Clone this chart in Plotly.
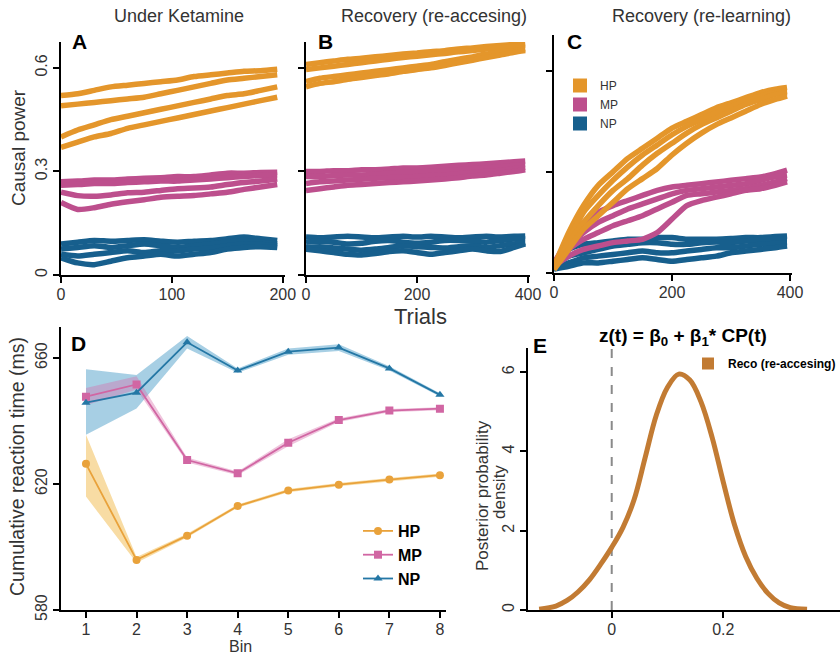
import plotly.graph_objects as go

# ---------------- DATA ----------------
# Panel A: Under Ketamine (trials)
a_trials = [0, 15, 30, 45, 60, 75, 90, 105, 120, 135, 150, 165, 180, 195]
a_hp = [
    [0.52, 0.525, 0.535, 0.545, 0.55, 0.555, 0.56, 0.565, 0.575, 0.58, 0.585, 0.59, 0.592, 0.596],
    [0.49, 0.495, 0.50, 0.505, 0.51, 0.515, 0.525, 0.535, 0.545, 0.555, 0.565, 0.57, 0.575, 0.58],
    [0.40, 0.42, 0.435, 0.45, 0.46, 0.47, 0.48, 0.49, 0.50, 0.51, 0.52, 0.525, 0.535, 0.545],
    [0.37, 0.385, 0.40, 0.41, 0.425, 0.435, 0.445, 0.455, 0.465, 0.475, 0.485, 0.495, 0.505, 0.515],
]
a_mp = [
    [0.27, 0.272, 0.275, 0.275, 0.278, 0.28, 0.282, 0.285, 0.285, 0.29, 0.295, 0.295, 0.297, 0.298],
    [0.26, 0.262, 0.265, 0.265, 0.268, 0.27, 0.272, 0.272, 0.275, 0.278, 0.282, 0.285, 0.288, 0.29],
    [0.24, 0.23, 0.228, 0.232, 0.238, 0.24, 0.245, 0.25, 0.252, 0.255, 0.262, 0.268, 0.272, 0.278],
    [0.21, 0.19, 0.195, 0.205, 0.212, 0.218, 0.225, 0.228, 0.23, 0.235, 0.24, 0.248, 0.255, 0.262],
]
a_np = [
    [0.09, 0.095, 0.10, 0.098, 0.10, 0.102, 0.098, 0.095, 0.098, 0.10, 0.105, 0.11, 0.105, 0.10],
    [0.075, 0.08, 0.085, 0.08, 0.085, 0.09, 0.085, 0.08, 0.085, 0.09, 0.095, 0.10, 0.095, 0.09],
    [0.06, 0.055, 0.06, 0.065, 0.07, 0.065, 0.07, 0.07, 0.075, 0.078, 0.085, 0.09, 0.088, 0.085],
    [0.05, 0.035, 0.03, 0.04, 0.05, 0.055, 0.06, 0.055, 0.06, 0.065, 0.075, 0.08, 0.082, 0.08],
]

# Panels B and C share trial positions
bc_trials = [0, 25, 50, 75, 100, 125, 150, 175, 200, 225, 250, 275, 300, 325, 350, 375, 395]
b_hp = [
    [0.61, 0.615, 0.62, 0.625, 0.628, 0.632, 0.636, 0.64, 0.643, 0.647, 0.65, 0.655, 0.658, 0.662, 0.665, 0.668, 0.67],
    [0.595, 0.60, 0.605, 0.61, 0.615, 0.62, 0.625, 0.63, 0.634, 0.638, 0.642, 0.647, 0.65, 0.655, 0.658, 0.662, 0.665],
    [0.56, 0.57, 0.575, 0.58, 0.585, 0.59, 0.595, 0.60, 0.605, 0.61, 0.618, 0.625, 0.632, 0.64, 0.645, 0.65, 0.655],
    [0.545, 0.555, 0.56, 0.567, 0.572, 0.578, 0.583, 0.59, 0.595, 0.60, 0.607, 0.615, 0.622, 0.63, 0.637, 0.645, 0.65],
]
b_mp = [
    [0.30, 0.30, 0.302, 0.302, 0.305, 0.305, 0.307, 0.31, 0.31, 0.312, 0.315, 0.318, 0.32, 0.322, 0.325, 0.328, 0.33],
    [0.285, 0.285, 0.288, 0.29, 0.29, 0.292, 0.295, 0.297, 0.298, 0.30, 0.302, 0.305, 0.308, 0.31, 0.313, 0.318, 0.32],
    [0.265, 0.27, 0.272, 0.275, 0.277, 0.28, 0.282, 0.283, 0.285, 0.288, 0.29, 0.293, 0.297, 0.30, 0.303, 0.308, 0.312],
    [0.245, 0.25, 0.255, 0.26, 0.262, 0.265, 0.268, 0.27, 0.272, 0.275, 0.278, 0.282, 0.287, 0.29, 0.295, 0.30, 0.305],
]
b_np = [
    [0.11, 0.108, 0.11, 0.112, 0.11, 0.108, 0.11, 0.112, 0.11, 0.112, 0.11, 0.108, 0.11, 0.112, 0.11, 0.112, 0.113],
    [0.095, 0.098, 0.095, 0.09, 0.092, 0.098, 0.10, 0.095, 0.092, 0.095, 0.10, 0.10, 0.098, 0.095, 0.10, 0.104, 0.105],
    [0.08, 0.082, 0.078, 0.075, 0.072, 0.075, 0.08, 0.085, 0.082, 0.08, 0.078, 0.082, 0.085, 0.08, 0.085, 0.09, 0.095],
    [0.075, 0.07, 0.065, 0.06, 0.058, 0.062, 0.068, 0.07, 0.065, 0.06, 0.065, 0.07, 0.075, 0.07, 0.068, 0.08, 0.09],
]
c_hp = [
    [0.02, 0.12, 0.20, 0.26, 0.30, 0.34, 0.37, 0.40, 0.43, 0.45, 0.47, 0.49, 0.505, 0.52, 0.535, 0.545, 0.55],
    [0.02, 0.10, 0.18, 0.23, 0.275, 0.315, 0.35, 0.38, 0.41, 0.435, 0.455, 0.475, 0.495, 0.51, 0.525, 0.535, 0.54],
    [0.015, 0.09, 0.15, 0.20, 0.245, 0.28, 0.32, 0.355, 0.385, 0.415, 0.44, 0.46, 0.48, 0.50, 0.515, 0.53, 0.535],
    [0.01, 0.07, 0.13, 0.17, 0.21, 0.25, 0.28, 0.31, 0.35, 0.385, 0.415, 0.44, 0.46, 0.48, 0.50, 0.515, 0.525],
]
c_mp = [
    [0.03, 0.10, 0.15, 0.18, 0.20, 0.215, 0.23, 0.245, 0.255, 0.26, 0.265, 0.27, 0.275, 0.28, 0.285, 0.295, 0.305],
    [0.03, 0.08, 0.12, 0.15, 0.17, 0.19, 0.205, 0.22, 0.235, 0.245, 0.25, 0.255, 0.26, 0.265, 0.275, 0.285, 0.29],
    [0.02, 0.07, 0.10, 0.12, 0.14, 0.155, 0.17, 0.19, 0.21, 0.23, 0.235, 0.24, 0.245, 0.25, 0.26, 0.27, 0.28],
    [0.02, 0.05, 0.07, 0.08, 0.09, 0.095, 0.10, 0.12, 0.16, 0.20, 0.215, 0.225, 0.235, 0.245, 0.25, 0.26, 0.27],
]
c_np = [
    [0.03, 0.07, 0.085, 0.09, 0.095, 0.10, 0.10, 0.105, 0.105, 0.10, 0.10, 0.10, 0.102, 0.105, 0.105, 0.108, 0.11],
    [0.02, 0.05, 0.06, 0.07, 0.08, 0.085, 0.09, 0.09, 0.085, 0.085, 0.09, 0.092, 0.09, 0.095, 0.098, 0.10, 0.10],
    [0.012, 0.03, 0.045, 0.05, 0.055, 0.06, 0.065, 0.06, 0.06, 0.065, 0.07, 0.075, 0.075, 0.08, 0.085, 0.088, 0.09],
    [0.012, 0.02, 0.03, 0.03, 0.035, 0.04, 0.045, 0.04, 0.035, 0.04, 0.045, 0.05, 0.06, 0.065, 0.07, 0.075, 0.08],
]

# Panel D: cumulative reaction time per bin
bins = [1, 2, 3, 4, 5, 6, 7, 8]
d_hp_mean = [626.4, 595.9, 603.6, 613.0, 617.9, 619.8, 621.4, 622.8]
d_hp_lo = [616.0, 595.0, 603.0, 612.5, 617.4, 619.3, 620.9, 622.3]
d_hp_hi = [635.6, 596.8, 604.2, 613.5, 618.4, 620.3, 621.9, 623.3]
d_mp_mean = [647.7, 651.6, 627.6, 623.4, 633.1, 640.3, 643.3, 643.9]
d_mp_lo = [645.0, 650.0, 626.8, 622.8, 632.0, 639.7, 642.8, 643.4]
d_mp_hi = [650.5, 654.2, 628.4, 624.0, 634.2, 640.9, 643.8, 644.4]
d_np_mean = [645.8, 649.0, 665.0, 656.0, 662.0, 663.3, 656.7, 648.3]
d_np_lo = [635.6, 644.0, 663.0, 655.3, 661.0, 662.2, 656.0, 647.8]
d_np_hi = [656.4, 654.6, 667.0, 656.7, 663.0, 664.4, 657.4, 648.8]

# Panel E: posterior density
e_x = [-0.13, -0.10, -0.08, -0.06, -0.04, -0.02, 0.00, 0.02, 0.04, 0.06, 0.08, 0.10,
       0.12, 0.14, 0.16, 0.18, 0.20, 0.22, 0.24, 0.26, 0.28, 0.30, 0.32, 0.35]
e_y = [0.02, 0.10, 0.24, 0.46, 0.76, 1.15, 1.58, 2.08, 2.78, 3.85, 4.92, 5.62,
       5.95, 5.80, 5.25, 4.35, 3.22, 2.15, 1.35, 0.80, 0.42, 0.18, 0.06, 0.02]

groups = ["HP", "MP", "NP"]
panel_titles = ["Under Ketamine", "Recovery (re-accesing)", "Recovery (re-learning)"]

# ---------------- STYLE ----------------
W, H = 840, 658
def fx(px): return px / W
def fy(py): return 1 - py / H

COL_S = {"HP": "#E4962B", "MP": "#BD4F8D", "NP": "#175F8D"}
COL_D = {"HP": "#E9A23B", "MP": "#D166A3", "NP": "#2477A5"}
BAND_D = {"HP": "rgba(242,192,90,0.55)", "MP": "rgba(214,110,170,0.40)", "NP": "rgba(95,168,205,0.55)"}
SYM_D = {"HP": "circle", "MP": "square", "NP": "triangle-up"}
FONT = "Liberation Sans, Arial, sans-serif"
TXT = "#333333"

fig = go.Figure()

# Panels A-C
panels = [
    ("x", "y", a_trials, {"HP": a_hp, "MP": a_mp, "NP": a_np}),
    ("x2", "y2", bc_trials, {"HP": b_hp, "MP": b_mp, "NP": b_np}),
    ("x3", "y3", bc_trials, {"HP": c_hp, "MP": c_mp, "NP": c_np}),
]
for xa, ya, tr, data in panels:
    for g in ["NP", "MP", "HP"]:
        for series in data[g]:
            fig.add_trace(go.Scatter(
                x=tr, y=series, xaxis=xa, yaxis=ya, mode="lines",
                line=dict(color=COL_S[g], width=5.5, shape="spline", smoothing=0.6),
                showlegend=False, hoverinfo="skip"))

# legend for panel C
for g in groups:
    fig.add_trace(go.Scatter(
        x=[None], y=[None], xaxis="x3", yaxis="y3", mode="markers", name=g,
        marker=dict(symbol="square", size=14, color=COL_S[g]), legend="legend"))

# Panel D
d_data = {"HP": (d_hp_mean, d_hp_lo, d_hp_hi), "MP": (d_mp_mean, d_mp_lo, d_mp_hi),
          "NP": (d_np_mean, d_np_lo, d_np_hi)}
for g in ["NP", "MP", "HP"]:
    m, lo, hi = d_data[g]
    fig.add_trace(go.Scatter(
        x=bins + bins[::-1], y=hi + lo[::-1], xaxis="x4", yaxis="y4", mode="lines",
        fill="toself", fillcolor=BAND_D[g], line=dict(width=0),
        showlegend=False, hoverinfo="skip"))
for g in groups:
    m, lo, hi = d_data[g]
    fig.add_trace(go.Scatter(
        x=bins, y=m, xaxis="x4", yaxis="y4", mode="lines+markers", name="<b>%s</b>" % g,
        line=dict(color=COL_D[g], width=1.8),
        marker=dict(symbol=SYM_D[g], size=8, color=COL_D[g]), legend="legend2"))

# Panel E
fig.add_trace(go.Scatter(
    x=e_x, y=e_y, xaxis="x5", yaxis="y5", mode="lines",
    line=dict(color="#C27B33", width=5, shape="spline"), showlegend=False))
fig.add_trace(go.Scatter(
    x=[None], y=[None], xaxis="x5", yaxis="y5", mode="markers",
    name="<b>Reco (re-accesing)</b>",
    marker=dict(symbol="square", size=12, color="#C27B33"), legend="legend3"))

def ax(**kw):
    d = dict(showline=True, linecolor="black", linewidth=1.6, ticks="outside",
             ticklen=6, tickwidth=1.6, tickcolor="black", showgrid=False,
             zeroline=False, automargin=False,
             tickfont=dict(size=16, color=TXT, family=FONT))
    d.update(kw)
    return d

XSO = -2   # x tick labels a bit closer to axis

fig.update_layout(
    width=W, height=H, margin=dict(l=0, r=0, t=0, b=0, pad=0, autoexpand=False),
    plot_bgcolor="white", paper_bgcolor="white",
    font=dict(family=FONT, color=TXT),
    hovermode=False,
    xaxis=ax(domain=[fx(61), fx(285)], range=[0, 202], anchor="y",
             tickvals=[0, 100, 200], ticklabelstandoff=XSO),
    yaxis=ax(domain=[fy(275), fy(42)], range=[0, 0.675], anchor="x",
             tickvals=[0, 0.3, 0.6], ticktext=["0", "0.3", "0.6"], tickangle=-90),
    xaxis2=ax(domain=[fx(306), fx(530)], range=[0, 403.6], anchor="y2",
              tickvals=[0, 200, 400], ticklabelstandoff=XSO),
    yaxis2=ax(domain=[fy(275), fy(42)], range=[0, 0.675], anchor="x2",
              tickvals=[0, 0.3, 0.6], showticklabels=False),
    xaxis3=ax(domain=[fx(554), fx(792)], range=[0, 403.4], anchor="y3",
              tickvals=[0, 200, 400], ticklabelstandoff=XSO),
    yaxis3=ax(domain=[fy(273), fy(35)], range=[0, 0.706], anchor="x3",
              tickvals=[0, 0.3, 0.6], showticklabels=False),
    xaxis4=ax(domain=[fx(61), fx(446)], range=[0.506, 8.12], anchor="y4",
              tickvals=bins, ticklabelstandoff=XSO),
    yaxis4=ax(domain=[fy(610), fy(326.5)], range=[580, 670], anchor="x4",
              tickvals=[580, 620, 660], tickangle=-90),
    xaxis5=ax(domain=[fx(528), 1.0], range=[-0.15, 0.409], anchor="y5",
              tickvals=[0, 0.2], ticktext=["0", "0.2"], ticklabelstandoff=XSO),
    yaxis5=ax(domain=[fy(610), fy(348)], range=[0, 6.61], anchor="x5",
              tickvals=[0, 2, 4, 6], tickangle=-90),
    legend=dict(x=fx(560), y=fy(71), xanchor="left", yanchor="top",
                font=dict(size=12, color=TXT), bgcolor="rgba(0,0,0,0)",
                itemwidth=30, tracegroupgap=0),
    legend2=dict(x=fx(358), y=fy(514), xanchor="left", yanchor="top",
                 font=dict(size=16, color="black"), bgcolor="rgba(0,0,0,0)",
                 itemwidth=30, tracegroupgap=0),
    legend3=dict(x=fx(688), y=fy(349), xanchor="left", yanchor="top",
                 font=dict(size=12, color="black"), bgcolor="rgba(0,0,0,0)",
                 itemwidth=30),
)

fig.add_shape(type="line", xref="x5", yref="y5 domain", x0=0, x1=0, y0=0, y1=1,
              line=dict(color="#8a8a8a", width=2, dash="dash"), layer="below")

ann = []
title_x = [179, 434, 701]
for t, px in zip(panel_titles, title_x):
    ann.append(dict(text=t, x=fx(px), y=fy(16), font=dict(size=18, color=TXT)))
for lab, px, py in [("A", 79, 41), ("B", 325, 41), ("C", 574, 41), ("D", 78, 343), ("E", 540, 345)]:
    ann.append(dict(text="<b>%s</b>" % lab, x=fx(px), y=fy(py), font=dict(size=21, color="black")))
ann.append(dict(text="Trials", x=fx(420), y=fy(316), font=dict(size=22, color=TXT)))
ann.append(dict(text="Causal power", x=fx(19), y=fy(148), textangle=-90, font=dict(size=19, color=TXT)))
ann.append(dict(text="Cumulative reaction time (ms)", x=fx(17), y=fy(467), textangle=-90,
                font=dict(size=19.5, color=TXT)))
ann.append(dict(text="Bin", x=fx(241), y=fy(646), font=dict(size=16, color=TXT)))
ann.append(dict(text="Posterior probability", x=fx(483), y=fy(495), textangle=-90,
                font=dict(size=17, color=TXT)))
ann.append(dict(text="density", x=fx(499), y=fy(492), textangle=-90,
                font=dict(size=17, color=TXT)))
ann.append(dict(text="<b>z(t) = β<sub>0</sub> + β<sub>1</sub>* CP(t)</b>", x=fx(683), y=fy(337),
                font=dict(size=19, color="black")))
for a in ann:
    a.update(xref="paper", yref="paper", showarrow=False, xanchor="center", yanchor="middle")
    fig.add_annotation(**a)

fig.write_html("out.html", config={"displayModeBar": False},
               post_script="document.body.style.margin='0px';")
